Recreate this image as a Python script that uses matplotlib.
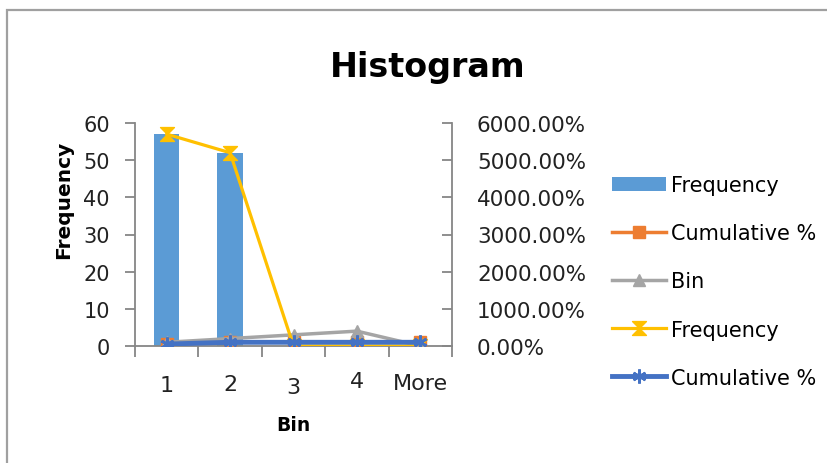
import matplotlib
matplotlib.use("Agg")
import matplotlib.pyplot as plt
import numpy as np
from matplotlib.path import Path
from matplotlib.patches import Rectangle
from matplotlib.transforms import ScaledTranslation
from matplotlib.ticker import FuncFormatter, FixedLocator

# histogram table
bins = ["1", "2", "3", "4", "More"]
freq = [57, 52, 0, 0, 0]
cum_pct = [0.523, 1.0, 1.0, 1.0, 1.0]   # fraction, shown as percent on right axis
bin_vals = [1, 2, 3, 4, 0]
freq_line = [57, 52, 0, 0, 0]
cum_pct2 = [0.523, 1.0, 1.0, 1.0, 1.0]

c_bar = "#5B9BD5"
c_orange = "#ED7D31"
c_gray = "#A5A5A5"
c_yellow = "#FFC000"
c_blue = "#4472C4"
c_axis = "#868686"

# hourglass marker (two triangles tip to tip)
hourglass = Path(
    [(-1, 1), (1, 1), (0, 0), (-1, 1), (-1, -1), (1, -1), (0, 0), (-1, -1)],
    [Path.MOVETO, Path.LINETO, Path.LINETO, Path.CLOSEPOLY,
     Path.MOVETO, Path.LINETO, Path.LINETO, Path.CLOSEPOLY])

fig = plt.figure(figsize=(8.28, 4.64), dpi=100)
# chart frame, open to the right and bottom
fig.patches.append(Rectangle((7 / 828, -1.0), 2.0, 2.0 - 11 / 464,
                             transform=fig.transFigure, fill=False,
                             edgecolor="#a0a0a0", lw=1.6))

ax = fig.add_axes([135 / 828, 1 - 347 / 464, (452 - 135) / 828, (347 - 124) / 464])
ax2 = ax.twinx()

x = np.arange(len(bins))
bars = ax.bar(x, freq, width=0.4, color=c_bar, zorder=2, label="Frequency")

l1, = ax2.plot(x, cum_pct, color=c_orange, lw=2.5, marker="s", ms=9,
               label="Cumulative %")
l2, = ax2.plot(x, bin_vals, color=c_gray, lw=2.5, marker="^", ms=9, label="Bin")
l3, = ax2.plot(x, freq_line, color=c_yellow, lw=2.3, marker=hourglass, ms=10,
               label="Frequency")
l4, = ax2.plot(x, cum_pct2, color=c_blue, lw=3.5, marker=(6, 2, 0), ms=10,
               mew=2, label="Cumulative %")

for a in (ax, ax2):
    a.set_xlim(-0.5, 4.5)
    a.set_ylim(0, 60)
    a.spines["top"].set_visible(False)
    for s in a.spines.values():
        s.set_color(c_axis)
        s.set_linewidth(1.3)

ax.spines["right"].set_visible(False)
ax2.spines["left"].set_visible(False)
ax2.spines["bottom"].set_visible(False)

ax.set_yticks(range(0, 61, 10))
ax.tick_params(axis="y", direction="out", length=7, width=1.3, color=c_axis,
               labelsize=15, pad=11, labelcolor="#222222")
ax2.set_yticks(range(0, 61, 10))
ax2.yaxis.set_major_formatter(FuncFormatter(lambda v, p: f"{v * 100:.2f}%"))
ax2.tick_params(axis="y", direction="in", length=7, width=1.3, color=c_axis,
                labelsize=15.5, pad=18, labelcolor="#222222")

# category boundaries carry the tick marks, centers carry the labels
ax.xaxis.set_major_locator(FixedLocator(np.arange(-0.5, 5.0, 1.0)))
ax.xaxis.set_major_formatter(FuncFormatter(lambda v, p: ""))
ax.xaxis.set_minor_locator(FixedLocator(x))
ax.set_xticklabels(bins, minor=True)
ax.tick_params(axis="x", which="major", direction="out", length=8, width=1.3,
               color=c_axis)
ax.tick_params(axis="x", which="minor", length=0, labelsize=16, pad=20,
               labelcolor="#222222")
ax2.tick_params(axis="x", length=0)

offsets = [-1, 0, -3, 3, 1]
for lab, dy in zip(ax.xaxis.get_minorticklabels(), offsets):
    lab.set_transform(lab.get_transform() + ScaledTranslation(0, dy / 100, fig.dpi_scale_trans))

ax.set_xlabel("Bin", fontsize=13.5, fontweight="bold", labelpad=13)
ax.set_ylabel("Frequency", fontsize=14.5, fontweight="bold")
ax.yaxis.set_label_coords(-0.195, 0.66)

fig.text(428 / 828, 1 - 68 / 464, "Histogram", fontsize=24, fontweight="bold",
         ha="center", va="center")

fig.legend(handles=[bars, l1, l2, l3, l4],
           labels=["Frequency", "Cumulative %", "Bin", "Frequency", "Cumulative %"],
           loc="center left", bbox_to_anchor=(612 / 828, 1 - 282.5 / 464),
           frameon=False, fontsize=15, handlelength=2.6, handletextpad=0.25,
           labelspacing=1.35, borderpad=0, borderaxespad=0)

fig.savefig("out.png", dpi=100)
